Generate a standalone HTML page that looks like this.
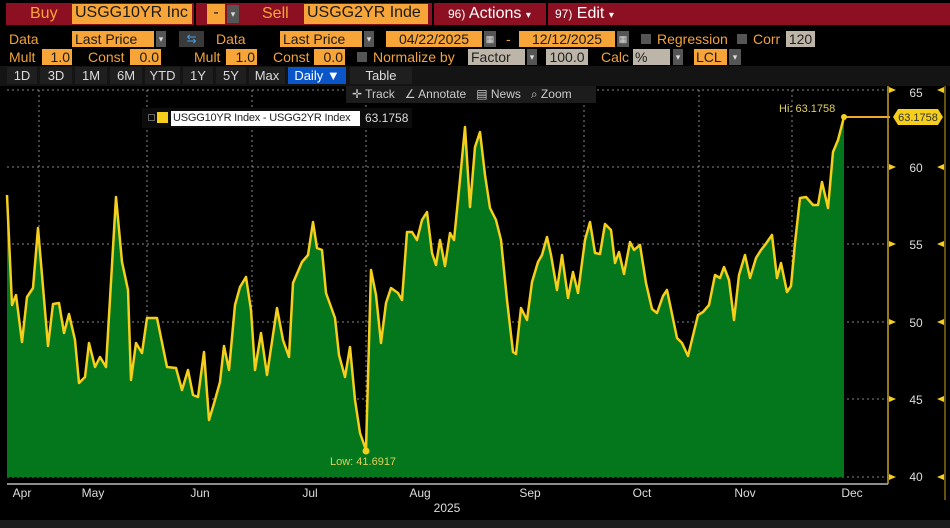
<!DOCTYPE html>
<html><head><meta charset="utf-8"><style>
*{margin:0;padding:0;box-sizing:border-box}
body{width:950px;height:528px;background:#000;overflow:hidden;position:relative;font-family:"Liberation Sans",sans-serif;color:#f2a33a}
.a{position:absolute;white-space:nowrap}
.or{background:#f7a538;color:#1a1a1a}
.gr{background:#bdb5a8;color:#222}
.dd{background:#555;color:#ddd;font-size:9px;text-align:center}
.f16{font-size:16px}
.f14{font-size:14px}
.btn{background:#1f1f1f;color:#ddd;font-size:13px;text-align:center;height:17px;line-height:17px;top:67px}
</style></head><body>
<div class="a" style="left:0;top:0;width:950px;height:28px;background:#000"></div>
<div class="a" style="left:6px;top:3px;width:188px;height:22px;background:#8c1022"></div>
<div class="a" style="left:196px;top:3px;width:46px;height:22px;background:#8c1022"></div>
<div class="a" style="left:242px;top:3px;width:190px;height:22px;background:#8c1022"></div>
<div class="a" style="left:434px;top:3px;width:112px;height:22px;background:#8c1022"></div>
<div class="a" style="left:548px;top:3px;width:402px;height:22px;background:#8c1022"></div>
<div class="a f16" style="left:30px;top:5px;color:#f7a538">Buy</div>
<div class="a or f16" style="left:72px;top:4px;width:120px;height:20px;padding-left:3px">USGG10YR Inc</div>
<div class="a or f16" style="left:207px;top:4px;width:18px;height:20px;text-align:center">-</div>
<div class="a dd" style="left:227px;top:5px;width:12px;height:18px;line-height:18px">▾</div>
<div class="a f16" style="left:262px;top:5px;color:#f7a538">Sell</div>
<div class="a or f16" style="left:304px;top:4px;width:124px;height:20px;padding-left:3px">USGG2YR Inde</div>
<div class="a f16" style="left:448px;top:5px;color:#fff"><span style="font-size:12px">96)</span> Actions <span style="font-size:10px">▾</span></div>
<div class="a f16" style="left:555px;top:5px;color:#fff"><span style="font-size:12px">97)</span> Edit <span style="font-size:10px">▾</span></div>
<div class="a f14" style="left:9px;top:31px">Data</div>
<div class="a or f14" style="left:72px;top:31px;width:82px;height:16px;line-height:16px;padding-left:3px">Last Price</div>
<div class="a dd" style="left:156px;top:31px;width:10px;height:16px;line-height:16px">▾</div>
<div class="a" style="left:179px;top:31px;width:25px;height:16px;background:#3a3a3a;color:#3da0f0;font-size:12px;text-align:center;line-height:16px">⇆</div>
<div class="a f14" style="left:216px;top:31px">Data</div>
<div class="a or f14" style="left:280px;top:31px;width:82px;height:16px;line-height:16px;padding-left:3px">Last Price</div>
<div class="a dd" style="left:364px;top:31px;width:10px;height:16px;line-height:16px">▾</div>
<div class="a or f14" style="left:386px;top:31px;width:96px;height:16px;line-height:16px;text-align:center">04/22/2025</div>
<div class="a dd" style="left:484px;top:31px;width:12px;height:16px;line-height:16px">▦</div>
<div class="a f14" style="left:506px;top:31px">-</div>
<div class="a or f14" style="left:519px;top:31px;width:96px;height:16px;line-height:16px;text-align:center">12/12/2025</div>
<div class="a dd" style="left:617px;top:31px;width:12px;height:16px;line-height:16px">▦</div>
<div class="a" style="left:641px;top:34px;width:10px;height:10px;background:#555"></div>
<div class="a f14" style="left:657px;top:31px">Regression</div>
<div class="a" style="left:737px;top:34px;width:10px;height:10px;background:#555"></div>
<div class="a f14" style="left:753px;top:31px">Corr</div>
<div class="a gr f14" style="left:786px;top:31px;width:29px;height:16px;line-height:16px;text-align:center">120</div>
<div class="a f14" style="left:9px;top:49px">Mult</div>
<div class="a or f14" style="left:42px;top:49px;width:30px;height:16px;line-height:16px;text-align:right;padding-right:2px">1.0</div>
<div class="a f14" style="left:88px;top:49px">Const</div>
<div class="a or f14" style="left:130px;top:49px;width:31px;height:16px;line-height:16px;text-align:right;padding-right:2px">0.0</div>
<div class="a f14" style="left:194px;top:49px">Mult</div>
<div class="a or f14" style="left:226px;top:49px;width:31px;height:16px;line-height:16px;text-align:right;padding-right:2px">1.0</div>
<div class="a f14" style="left:273px;top:49px">Const</div>
<div class="a or f14" style="left:314px;top:49px;width:31px;height:16px;line-height:16px;text-align:right;padding-right:2px">0.0</div>
<div class="a" style="left:357px;top:52px;width:10px;height:10px;background:#555"></div>
<div class="a f14" style="left:373px;top:49px">Normalize by</div>
<div class="a gr f14" style="left:468px;top:49px;width:57px;height:16px;line-height:16px;padding-left:3px">Factor</div>
<div class="a dd" style="left:527px;top:49px;width:10px;height:16px;line-height:16px">▾</div>
<div class="a gr f14" style="left:546px;top:49px;width:42px;height:16px;line-height:16px;text-align:center">100.0</div>
<div class="a f14" style="left:601px;top:49px">Calc</div>
<div class="a gr f14" style="left:633px;top:49px;width:37px;height:16px;line-height:16px;padding-left:2px">%</div>
<div class="a dd" style="left:673px;top:49px;width:10px;height:16px;line-height:16px">▾</div>
<div class="a or f14" style="left:694px;top:49px;width:33px;height:16px;line-height:16px;padding-left:2px">LCL</div>
<div class="a dd" style="left:729px;top:49px;width:12px;height:16px;line-height:16px">▾</div>
<div class="a" style="left:0;top:66px;width:950px;height:20px;background:#141414"></div>
<div class="a btn" style="left:7px;width:30px">1D</div>
<div class="a btn" style="left:40px;width:32px">3D</div>
<div class="a btn" style="left:75px;width:32px">1M</div>
<div class="a btn" style="left:110px;width:32px">6M</div>
<div class="a btn" style="left:145px;width:35px">YTD</div>
<div class="a btn" style="left:183px;width:30px">1Y</div>
<div class="a btn" style="left:216px;width:30px">5Y</div>
<div class="a btn" style="left:249px;width:36px">Max</div>
<div class="a btn" style="left:288px;width:58px;background:#0a55c8;color:#fff">Daily ▼</div>
<div class="a btn" style="left:350px;width:62px">Table</div>
<svg class="a" style="left:0;top:0" width="950" height="528">
<g stroke="#888" stroke-dasharray="2,3" stroke-width="1">
<line x1="7" y1="90" x2="888" y2="90"/>
<line x1="7" y1="167" x2="888" y2="167"/><line x1="7" y1="244" x2="888" y2="244"/>
<line x1="7" y1="322" x2="888" y2="322"/><line x1="7" y1="399" x2="888" y2="399"/>
<line x1="7" y1="477" x2="888" y2="477"/>
<line x1="39" y1="90" x2="39" y2="477"/><line x1="147" y1="90" x2="147" y2="477"/>
<line x1="252" y1="90" x2="252" y2="477"/><line x1="366" y1="90" x2="366" y2="477"/>
<line x1="584" y1="90" x2="584" y2="477"/><line x1="699" y1="90" x2="699" y2="477"/>
<line x1="792" y1="90" x2="792" y2="477"/>
</g>
<polygon fill="#04761c" points="7,477 7,195 12,305 16,295 22,342 27,297 33,288 38,228 48,346 53,304 59,303 64,333 69,314 75,340 79,383 85,377 89,343 95,367 100,357 106,367 116,197 122,262 128,290 131,380 136,343 142,353 147,318 157,318 167,367 176,368 182,390 188,370 193,395 198,397 204,352 209,420 215,400 220,382 224,346 229,370 235,305 240,287 246,277 251,310 255,370 261,333 267,375 277,308 283,340 289,357 293,283 302,262 308,255 313,222 317,248 322,250 326,293 335,318 339,355 345,377 350,347 355,400 360,433 366,450 371,270 376,295 381,343 386,303 391,288 398,293 402,300 407,232 412,232 417,240 422,220 427,212 432,253 436,265 440,240 445,266 450,233 454,240 459,190 465,127 470,207 475,147 480,132 485,175 490,208 496,220 501,240 507,300 513,352 516,354 521,308 527,320 532,282 538,262 542,255 547,237 551,255 557,290 562,255 568,298 573,272 578,293 585,240 590,222 595,253 600,254 605,224 611,230 615,263 619,252 624,274 630,242 634,250 640,245 646,283 652,309 657,313 663,296 667,290 677,338 682,343 688,356 698,315 703,312 709,305 715,275 720,278 724,267 729,280 734,320 739,275 745,255 750,278 756,258 761,250 765,245 772,235 777,278 781,263 787,292 791,286 795,243 800,198 806,197 813,205 818,205 822,182 828,208 833,152 838,140 844,117 844,477"/>
<polyline fill="none" stroke="#f5cf1c" stroke-width="2.5" stroke-linejoin="round" points="7,195 12,305 16,295 22,342 27,297 33,288 38,228 48,346 53,304 59,303 64,333 69,314 75,340 79,383 85,377 89,343 95,367 100,357 106,367 116,197 122,262 128,290 131,380 136,343 142,353 147,318 157,318 167,367 176,368 182,390 188,370 193,395 198,397 204,352 209,420 215,400 220,382 224,346 229,370 235,305 240,287 246,277 251,310 255,370 261,333 267,375 277,308 283,340 289,357 293,283 302,262 308,255 313,222 317,248 322,250 326,293 335,318 339,355 345,377 350,347 355,400 360,433 366,450 371,270 376,295 381,343 386,303 391,288 398,293 402,300 407,232 412,232 417,240 422,220 427,212 432,253 436,265 440,240 445,266 450,233 454,240 459,190 465,127 470,207 475,147 480,132 485,175 490,208 496,220 501,240 507,300 513,352 516,354 521,308 527,320 532,282 538,262 542,255 547,237 551,255 557,290 562,255 568,298 573,272 578,293 585,240 590,222 595,253 600,254 605,224 611,230 615,263 619,252 624,274 630,242 634,250 640,245 646,283 652,309 657,313 663,296 667,290 677,338 682,343 688,356 698,315 703,312 709,305 715,275 720,278 724,267 729,280 734,320 739,275 745,255 750,278 756,258 761,250 765,245 772,235 777,278 781,263 787,292 791,286 795,243 800,198 806,197 813,205 818,205 822,182 828,208 833,152 838,140 844,117"/>
<line x1="844" y1="117" x2="890" y2="117" stroke="#f0a830" stroke-width="2"/>
<circle cx="844" cy="117" r="3" fill="#f5cf1c"/>
<circle cx="366" cy="451" r="3.5" fill="#f5cf1c"/>
<line x1="7" y1="484" x2="888" y2="484" stroke="#bbb" stroke-width="1.5"/>
<line x1="888" y1="86" x2="888" y2="484" stroke="#c9a21c" stroke-width="1.5"/>
<line x1="945" y1="86" x2="945" y2="500" stroke="#c9a21c" stroke-width="1"/>
<g fill="#f5cf1c">
<path d="M889,87 l7,3 -7,3z M889,164 l7,3 -7,3z M889,241 l7,3 -7,3z M889,319 l7,3 -7,3z M889,396 l7,3 -7,3z M889,474 l7,3 -7,3z"/>
<path d="M944,87 l-7,3 7,3z M944,164 l-7,3 7,3z M944,241 l-7,3 7,3z M944,319 l-7,3 7,3z M944,396 l-7,3 7,3z M944,474 l-7,3 7,3z"/>
</g>
<polygon points="893,117 898,109 938,109 943,117 938,125 898,125" fill="#f5cf1c"/>
<g fill="#ddd" font-size="12" font-family="Liberation Sans, sans-serif" text-anchor="middle">
<text x="916" y="97">65</text><text x="916" y="172">60</text><text x="916" y="249">55</text>
<text x="916" y="327">50</text><text x="916" y="404">45</text><text x="916" y="481">40</text>
<text x="22" y="497">Apr</text><text x="93" y="497">May</text><text x="200" y="497">Jun</text>
<text x="310" y="497">Jul</text><text x="420" y="497">Aug</text><text x="530" y="497">Sep</text>
<text x="642" y="497">Oct</text><text x="745" y="497">Nov</text><text x="852" y="497">Dec</text>
<text x="447" y="512">2025</text>
</g>
<text x="918" y="121" fill="#333" font-size="11" text-anchor="middle" font-family="Liberation Sans, sans-serif">63.1758</text>
<text x="330" y="465" fill="#e0d060" font-size="11" font-family="Liberation Sans, sans-serif">Low: 41.6917</text>
<text x="779" y="112" fill="#e0d060" font-size="11" font-family="Liberation Sans, sans-serif">Hi: 63.1758</text>
</svg>
<div class="a" style="left:346px;top:86px;width:250px;height:17px;background:#1c1c1c;color:#ccc;font-size:12px;line-height:17px;padding-left:6px">✛ Track &nbsp; ∠ Annotate &nbsp; ▤ News &nbsp; ⌕ Zoom</div>
<div class="a" style="left:142px;top:108px;width:270px;height:20px;background:#0c0c0c"></div>
<div class="a" style="left:148px;top:114px;width:7px;height:7px;border:1px solid #666"></div>
<div class="a" style="left:157px;top:112px;width:11px;height:11px;background:#f5cf1c"></div>
<div class="a" style="left:171px;top:111px;width:189px;height:15px;background:#fff;color:#222;font-size:11px;letter-spacing:-0.2px;line-height:15px;padding:0 2px;overflow:hidden">USGG10YR Index - USGG2YR Index</div>
<div class="a" style="left:365px;top:111px;color:#ddd;font-size:12px;line-height:15px">63.1758</div>
<div class="a" style="left:0;top:520px;width:950px;height:8px;background:#1c1c1c"></div>
</body></html>
